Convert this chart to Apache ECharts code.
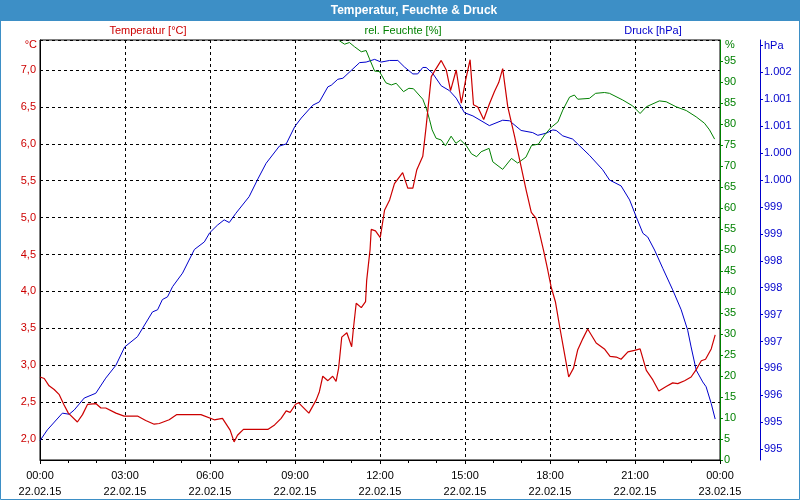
<!DOCTYPE html>
<html>
<head>
<meta charset="utf-8">
<script src="https://cdn.jsdelivr.net/npm/echarts@6/dist/echarts.min.js"></script>
<style>html,body{margin:0;padding:0;background:#fff}#c{width:800px;height:500px}</style>
</head>
<body>
<div id="c"></div>
<script>
// ---- Data (hours since 22.02.15 00:00) ----
const tempHours = [0.0,0.15,0.32,0.5,0.68,0.85,1.0,1.32,1.5,1.68,1.97,2.15,2.32,2.68,2.97,3.44,3.73,4.03,4.21,4.56,4.83,5.68,6.15,6.44,6.71,6.85,6.97,7.18,8.04,8.28,8.51,8.69,8.83,9.02,9.13,9.49,9.75,9.86,9.98,10.16,10.33,10.45,10.54,10.65,10.83,11.0,11.06,11.16,11.34,11.49,11.53,11.65,11.69,11.84,12.01,12.16,12.34,12.51,12.8,12.98,13.16,13.3,13.51,13.63,13.81,13.98,14.16,14.34,14.49,14.69,14.87,15.02,15.18,15.3,15.45,15.66,15.86,16.04,16.19,16.33,16.51,16.75,16.98,17.16,17.34,17.51,17.77,17.92,18.04,18.19,18.36,18.51,18.66,18.83,18.98,19.16,19.33,19.63,19.92,20.12,20.34,20.51,20.75,20.98,21.18,21.4,21.63,21.84,22.1,22.33,22.51,22.75,22.98,23.16,23.34,23.49,23.69,23.83];
const tempValues = [2.84,2.82,2.72,2.67,2.6,2.46,2.35,2.23,2.33,2.47,2.48,2.42,2.42,2.35,2.31,2.31,2.25,2.2,2.21,2.26,2.33,2.33,2.26,2.28,2.12,1.96,2.05,2.13,2.13,2.19,2.28,2.38,2.36,2.47,2.49,2.35,2.53,2.64,2.85,2.79,2.85,2.78,2.96,3.38,3.44,3.25,3.49,3.84,3.78,3.86,4.15,4.57,4.84,4.82,4.73,5.1,5.24,5.46,5.61,5.4,5.4,5.65,5.83,6.24,6.91,7.02,7.13,7.0,6.72,7.0,6.55,6.86,7.14,6.53,6.5,6.33,6.54,6.71,6.83,7.02,6.5,6.1,5.69,5.37,5.07,4.99,4.56,4.29,4.06,3.86,3.48,3.16,2.84,2.96,3.21,3.36,3.49,3.3,3.22,3.12,3.11,3.08,3.18,3.2,3.22,2.93,2.8,2.65,2.71,2.76,2.75,2.79,2.84,2.94,3.06,3.08,3.22,3.41];

const humHours = [10.57,10.75,10.92,11.1,11.34,11.51,11.63,11.81,11.98,12.21,12.4,12.57,12.83,13.02,13.18,13.51,13.64,13.75,13.84,13.98,14.16,14.31,14.51,14.68,14.84,15.04,15.23,15.41,15.57,15.85,15.98,16.33,16.64,16.86,17.15,17.35,17.59,17.81,18.04,18.28,18.45,18.69,18.86,18.98,19.39,19.61,19.92,20.1,20.57,20.92,21.18,21.4,21.86,22.1,22.45,22.81,23.16,23.45,23.63,23.81];
const humValues = [99.8,99.0,99.4,98.4,97.2,97.5,95.5,92.6,92.5,89.8,89.3,89.7,87.7,88.5,88.4,85.9,83.6,81.0,78.6,76.6,76.2,74.8,77.1,75.4,76.2,74.9,72.9,72.2,73.4,74.2,71.0,69.2,71.8,70.7,72.1,74.9,75.2,77.4,79.2,80.5,83.3,86.4,86.9,85.9,86.1,87.3,87.5,87.3,85.7,84.3,82.5,84.1,85.5,85.3,84.1,83.2,81.7,80.2,78.6,76.4];

const pressHours = [0.0,0.26,0.79,1.03,1.21,1.56,1.97,2.32,2.68,2.99,3.44,3.97,4.15,4.32,4.5,4.68,5.03,5.45,5.8,5.99,6.26,6.5,6.68,6.91,7.38,7.69,7.98,8.45,8.69,8.99,9.22,9.63,9.86,10.16,10.28,10.51,10.69,11.28,11.51,11.81,12.04,12.34,12.63,12.86,13.16,13.33,13.51,13.63,13.86,14.16,14.45,14.69,14.98,15.28,15.86,16.33,16.57,16.98,17.39,17.57,17.87,18.1,18.22,18.45,18.8,19.39,19.86,20.1,20.51,20.81,21.04,21.28,21.45,21.69,21.98,22.33,22.63,22.86,22.98,23.16,23.39,23.51,23.69,23.83];
const pressValues = [994.66,994.86,995.17,995.15,995.23,995.45,995.54,995.82,996.06,996.4,996.59,997.05,997.09,997.28,997.33,997.52,997.77,998.21,998.35,998.52,998.66,998.76,998.71,998.88,999.19,999.52,999.81,1000.13,1000.17,1000.49,1000.65,1000.89,1000.95,1001.23,1001.26,1001.37,1001.39,1001.68,1001.69,1001.74,1001.69,1001.72,1001.72,1001.6,1001.47,1001.47,1001.59,1001.59,1001.48,1001.25,1001.16,1001.02,1000.75,1000.69,1000.51,1000.61,1000.6,1000.42,1000.38,1000.33,1000.37,1000.43,1000.42,1000.32,1000.26,999.96,999.69,999.5,999.39,999.13,998.82,998.51,998.44,998.2,997.86,997.46,997.09,996.71,996.4,995.97,995.75,995.66,995.35,995.06];

const xTickLabels = ['00:00\n22.02.15','03:00\n22.02.15','06:00\n22.02.15','09:00\n22.02.15','12:00\n22.02.15','15:00\n22.02.15','18:00\n22.02.15','21:00\n22.02.15','00:00\n23.02.15'];

const chartTitle = 'Temperatur, Feuchte & Druck';
const seriesNames = ['Temperatur [°C]', 'rel. Feuchte [%]', 'Druck [hPa]'];

// ---- Styling ----
const RED = '#cc0000', GREEN = '#008000', BLUE = '#0000cc', BAR = '#3d8fc6';
const FONT = 'Liberation Sans';

const pairs = (xs, ys) => xs.map((x, i) => [x, ys[i]]);
const dash = { color: '#000', type: [3, 3], width: 1 };

const chart = echarts.init(document.getElementById('c'), null, { renderer: 'canvas' });
chart.setOption({
  animation: false,
  backgroundColor: '#fff',
  textStyle: { fontFamily: FONT, fontSize: 11 },
  grid: { left: 40, right: 80, top: 40, bottom: 40, show: true, borderColor: '#000', borderWidth: 1, backgroundColor: 'transparent' },
  xAxis: {
    type: 'value', min: 0, max: 24, interval: 3,
    axisLine: { lineStyle: { color: '#000', width: 1 } },
    axisTick: { show: true, length: 4, lineStyle: { color: '#000' } },
    minorTick: { show: true, splitNumber: 3, length: 3, lineStyle: { color: '#000' } },
    splitLine: { show: true, lineStyle: dash },
    axisLabel: {
      color: '#000', fontFamily: FONT, fontSize: 11, lineHeight: 16, margin: 8,
      formatter: v => xTickLabels[Math.round(v / 3)]
    }
  },
  yAxis: [
    {
      type: 'value', position: 'left', min: 1.715, max: 7.407, splitNumber: 11,
      axisLine: { show: true, lineStyle: { color: '#000', width: 1 } },
      axisTick: { show: false },
      splitLine: { show: true, lineStyle: dash },
      axisLabel: { color: RED, fontFamily: FONT, fontSize: 11, margin: 4, showMinLabel: false, showMaxLabel: false,
        formatter: v => (Math.abs(v * 2 - Math.round(v * 2)) > 1e-6) ? '' : v.toFixed(1).replace('.', ',') }
    },
    {
      type: 'value', position: 'right', offset: 0, min: 0, max: 100, interval: 5,
      axisLine: { show: true, lineStyle: { color: GREEN, width: 1 } },
      axisTick: { show: true, length: 3, lineStyle: { color: GREEN } },
      splitLine: { show: false },
      axisLabel: { color: GREEN, fontFamily: FONT, fontSize: 11, margin: 4, showMaxLabel: false,
        formatter: v => String(Math.round(v)) }
    },
    {
      type: 'value', position: 'right', offset: 40, min: 994.3, max: 1002.1, splitNumber: 15,
      axisLine: { show: true, lineStyle: { color: BLUE, width: 1 } },
      axisTick: { show: true, length: 3, lineStyle: { color: BLUE } },
      splitLine: { show: false },
      axisLabel: { color: BLUE, fontFamily: FONT, fontSize: 11, margin: 4, showMinLabel: false, showMaxLabel: false,
        formatter: v => {
          if (v > 1001.75 || v < 994.45) return '';
          const r = Math.round(v + 1e-9);
          return r >= 1000 ? '1.' + String(r - 1000).padStart(3, '0') : String(r);
        } }
    }
  ],
  series: [
    { name: seriesNames[2], type: 'line', yAxisIndex: 2, data: pairs(pressHours, pressValues), symbol: 'none', clip: true,
      lineStyle: { color: BLUE, width: 1 } },
    { name: seriesNames[1], type: 'line', yAxisIndex: 1, data: pairs(humHours, humValues), symbol: 'none', clip: true,
      lineStyle: { color: GREEN, width: 1 } },
    { name: seriesNames[0], type: 'line', yAxisIndex: 0, data: pairs(tempHours, tempValues), symbol: 'none', clip: true,
      lineStyle: { color: RED, width: 1.2 } }
  ],
  graphic: [
    { type: 'rect', shape: { x: 0, y: 0, width: 800, height: 21 }, style: { fill: BAR }, silent: true },
    { type: 'rect', shape: { x: 0.5, y: 0.5, width: 799, height: 499 }, style: { fill: null, stroke: BAR, lineWidth: 1 }, silent: true },
    { type: 'text', x: 414, y: 11, style: { text: chartTitle, fill: '#fff', font: 'bold 12px "' + FONT + '"', textAlign: 'center', textVerticalAlign: 'middle' } },
    { type: 'text', x: 148, y: 31, style: { text: seriesNames[0], fill: RED, font: '11px "' + FONT + '"', textAlign: 'center', textVerticalAlign: 'middle' } },
    { type: 'text', x: 403, y: 31, style: { text: seriesNames[1], fill: GREEN, font: '11px "' + FONT + '"', textAlign: 'center', textVerticalAlign: 'middle' } },
    { type: 'text', x: 653, y: 31, style: { text: seriesNames[2], fill: BLUE, font: '11px "' + FONT + '"', textAlign: 'center', textVerticalAlign: 'middle' } },
    { type: 'text', x: 37, y: 45, style: { text: '°C', fill: RED, font: '11px "' + FONT + '"', textAlign: 'right', textVerticalAlign: 'middle' } },
    { type: 'text', x: 725, y: 45, style: { text: '%', fill: GREEN, font: '11px "' + FONT + '"', textAlign: 'left', textVerticalAlign: 'middle' } },
    { type: 'text', x: 764, y: 46, style: { text: 'hPa', fill: BLUE, font: '11px "' + FONT + '"', textAlign: 'left', textVerticalAlign: 'middle' } }
  ]
});
</script>
</body>
</html>
